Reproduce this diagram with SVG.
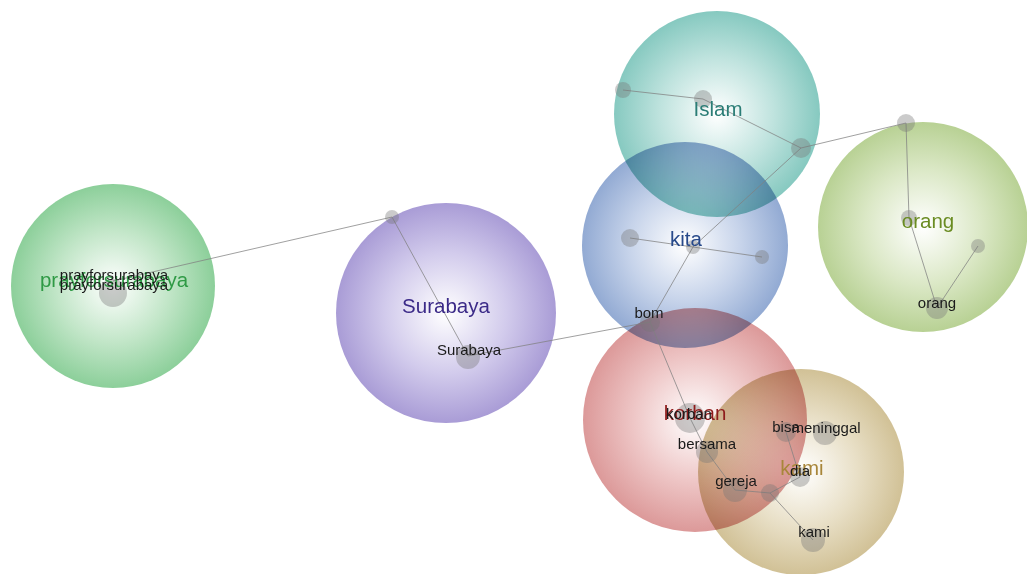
<svg xmlns="http://www.w3.org/2000/svg" width="1027" height="574" viewBox="0 0 1027 574">
<defs>
<radialGradient id="gGreen"><stop offset="0" stop-color="#ffffff"/><stop offset="0.55" stop-color="#c2e6c8"/><stop offset="1" stop-color="#8ccf9a"/></radialGradient>
<radialGradient id="gPurple"><stop offset="0" stop-color="#ffffff"/><stop offset="0.55" stop-color="#d2cbec"/><stop offset="1" stop-color="#a99cd6"/></radialGradient>
<radialGradient id="gTeal"><stop offset="0" stop-color="#ffffff"/><stop offset="0.55" stop-color="#bfe3de"/><stop offset="1" stop-color="#86c9c0"/></radialGradient>
<radialGradient id="gBlue"><stop offset="0" stop-color="#ffffff"/><stop offset="0.55" stop-color="#c6d3ea"/><stop offset="1" stop-color="#92aad3"/></radialGradient>
<radialGradient id="gOlive"><stop offset="0" stop-color="#ffffff"/><stop offset="0.55" stop-color="#dbe8c6"/><stop offset="1" stop-color="#b8d194"/></radialGradient>
<radialGradient id="gRed"><stop offset="0" stop-color="#ffffff"/><stop offset="0.55" stop-color="#eec6c6"/><stop offset="1" stop-color="#dc9999"/></radialGradient>
<radialGradient id="gTan"><stop offset="0" stop-color="#ffffff"/><stop offset="0.55" stop-color="#e8dfc6"/><stop offset="1" stop-color="#d1c196"/></radialGradient>
</defs>
<style>
.bubble{mix-blend-mode:multiply}
.node{fill:#777;fill-opacity:0.38}
.edge{stroke:#808080;stroke-opacity:0.75;stroke-width:1;fill:none}
.big{font-family:"Liberation Sans",Arial,sans-serif;font-size:20.5px;text-anchor:middle}
.small{font-family:"Liberation Sans",Arial,sans-serif;font-size:15px;text-anchor:middle;fill:#1a1a1a}
</style>
<rect width="1027" height="574" fill="#ffffff"/>
<g id="clusters">
<circle id="c-prayforsurabaya" class="bubble" cx="113" cy="286" r="102" fill="url(#gGreen)"/>
<circle id="c-surabaya" class="bubble" cx="446" cy="313" r="110" fill="url(#gPurple)"/>
<circle id="c-islam" class="bubble" cx="717" cy="114" r="103" fill="url(#gTeal)"/>
<circle id="c-kita" class="bubble" cx="685" cy="245" r="103" fill="url(#gBlue)"/>
<circle id="c-orang" class="bubble" cx="923" cy="227" r="105" fill="url(#gOlive)"/>
<circle id="c-korban" class="bubble" cx="695" cy="420" r="112" fill="url(#gRed)"/>
<circle id="c-kami" class="bubble" cx="801" cy="472" r="103" fill="url(#gTan)"/>
</g>
<g id="connectors" class="edge">
<line x1="113" y1="281" x2="392" y2="217"/>
<line x1="392" y1="217" x2="468" y2="356"/>
<line x1="468" y1="356" x2="650" y2="322"/>
<line x1="650" y1="322" x2="693" y2="247"/>
<line x1="693" y1="247" x2="801" y2="148"/>
<line x1="630" y1="238" x2="693" y2="247"/>
<line x1="693" y1="247" x2="762" y2="257"/>
<line x1="623" y1="90" x2="703" y2="99"/>
<line x1="703" y1="99" x2="801" y2="148"/>
<line x1="801" y1="148" x2="906" y2="123"/>
<line x1="906" y1="123" x2="909" y2="218"/>
<line x1="909" y1="218" x2="937" y2="308"/>
<line x1="937" y1="308" x2="978" y2="246"/>
<line x1="650" y1="322" x2="690" y2="418"/>
<line x1="690" y1="418" x2="707" y2="452"/>
<line x1="707" y1="452" x2="735" y2="490"/>
<line x1="735" y1="490" x2="770" y2="493"/>
<line x1="770" y1="493" x2="813" y2="540"/>
<line x1="786" y1="432" x2="800" y2="477"/>
<line x1="800" y1="477" x2="770" y2="493"/>
</g>
<g id="nodes">
<g id="n-prayforsurabaya"><circle class="node" cx="113" cy="293" r="14"/></g>
<g id="n-surabaya-top"><circle class="node" cx="392" cy="217" r="7"/></g>
<g id="n-surabaya"><circle class="node" cx="468" cy="357" r="12"/></g>
<g id="n-bom"><circle class="node" cx="650" cy="322" r="10"/></g>
<g id="n-kita"><circle class="node" cx="693" cy="247" r="7"/></g>
<g id="n-kita-left"><circle class="node" cx="630" cy="238" r="9"/></g>
<g id="n-kita-right"><circle class="node" cx="762" cy="257" r="7"/></g>
<g id="n-islam-left"><circle class="node" cx="623" cy="90" r="8"/></g>
<g id="n-islam"><circle class="node" cx="703" cy="99" r="9"/></g>
<g id="n-islam-right"><circle class="node" cx="801" cy="148" r="10"/></g>
<g id="n-orang-top"><circle class="node" cx="906" cy="123" r="9"/></g>
<g id="n-orang-mid"><circle class="node" cx="909" cy="218" r="8"/></g>
<g id="n-orang"><circle class="node" cx="937" cy="308" r="11"/></g>
<g id="n-orang-right"><circle class="node" cx="978" cy="246" r="7"/></g>
<g id="n-korban"><circle class="node" cx="690" cy="418" r="15"/></g>
<g id="n-bersama"><circle class="node" cx="707" cy="452" r="11"/></g>
<g id="n-gereja"><circle class="node" cx="735" cy="490" r="12"/></g>
<g id="n-link"><circle class="node" cx="770" cy="493" r="9"/></g>
<g id="n-bisa"><circle class="node" cx="786" cy="432" r="10"/></g>
<g id="n-meninggal"><circle class="node" cx="825" cy="433" r="12"/></g>
<g id="n-dia"><circle class="node" cx="800" cy="477" r="10"/></g>
<g id="n-kami"><circle class="node" cx="813" cy="540" r="12"/></g>
</g>
<g id="cluster-labels">
<text class="big" x="114" y="287" font-size="22" fill="#2f9a45">prayforsurabaya</text>
<text class="big" x="446" y="313" fill="#3b2a88">Surabaya</text>
<text class="big" x="718" y="116" fill="#2b7d76">Islam</text>
<text class="big" x="686" y="246" fill="#27498a">kita</text>
<text class="big" x="928" y="228" fill="#6a8c22">orang</text>
<text class="big" x="695" y="420" fill="#8e1c1c">korban</text>
<text class="big" x="802" y="475" fill="#a8863a">kami</text>
</g>
<g id="node-labels">
<text class="small" x="114" y="280">prayforsurabaya</text>
<text class="small" x="114" y="290">prayforsurabaya</text>
<text class="small" x="469" y="355">Surabaya</text>
<text class="small" x="649" y="318">bom</text>
<text class="small" x="937" y="308">orang</text>
<text class="small" x="689" y="419">korban</text>
<text class="small" x="707" y="449">bersama</text>
<text class="small" x="736" y="486">gereja</text>
<text class="small" x="786" y="432">bisa</text>
<text class="small" x="826" y="433">meninggal</text>
<text class="small" x="800" y="476">dia</text>
<text class="small" x="814" y="537">kami</text>
</g>
</svg>
